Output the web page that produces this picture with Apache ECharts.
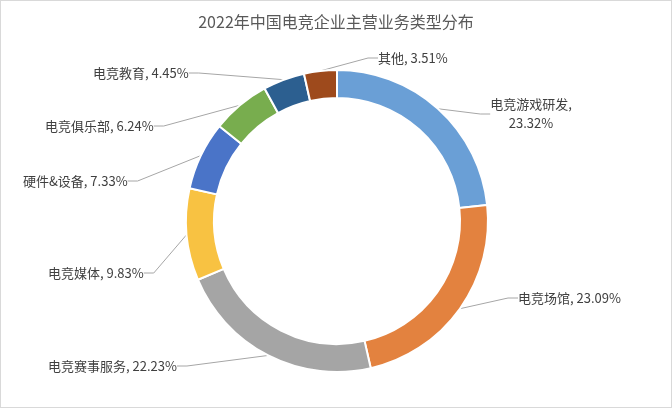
<!DOCTYPE html>
<html><head><meta charset="utf-8">
<script src="https://cdn.jsdelivr.net/npm/echarts@6/dist/echarts.min.js"></script>
<style>html,body{margin:0;padding:0;background:#fff}#c{width:672px;height:408px;box-sizing:border-box;border:1px solid #d9d9d9}</style>
</head><body><div id="c"></div>
<script>
const categories=['电竞游戏研发','电竞场馆','电竞赛事服务','电竞媒体','硬件&设备','电竞俱乐部','电竞教育','其他'];
const values=[23.32,23.09,22.23,9.83,7.33,6.24,4.45,3.51];
const colors=['#6A9FD6','#E3823F','#A5A5A5','#F8C242','#4A74C8','#78AD4E','#2C5F90','#9E4A1C'];
const labelPos=[[530,113,'center'],[517,297,'left'],[47,365,'left'],[47,272,'left'],[22,180,'left'],[44,125,'left'],[92,72,'left'],[377,57,'left']];
const chart=echarts.init(document.getElementById('c'));
chart.setOption({
  animation:false,
  title:{text:'2022年中国电竞企业主营业务类型分布',left:'center',top:8,textStyle:{fontSize:16,fontWeight:'normal',color:'#595959',fontFamily:'Noto Sans CJK SC'}},
  series:[{
    type:'pie',center:[336,220],radius:[123,151],startAngle:90,clockwise:true,
    data:categories.map((n,i)=>({name:n,value:values[i],itemStyle:{color:colors[i]}})),
    itemStyle:{borderColor:'#fff',borderWidth:2},
    label:{formatter:p=>p.dataIndex===0?p.name+',\n'+p.value.toFixed(2)+'%':p.name+', '+p.value.toFixed(2)+'%',fontSize:13,color:'#404040',fontFamily:'Noto Sans CJK SC',lineHeight:19},
    labelLine:{length:-25,length2:10,lineStyle:{color:'#a6a6a6',width:1}},
    labelLayout:p=>{const q=labelPos[p.dataIndex];return {x:q[0],y:q[1],align:q[2],verticalAlign:'middle',hideOverlap:false};}
  }]
});
</script></body></html>
